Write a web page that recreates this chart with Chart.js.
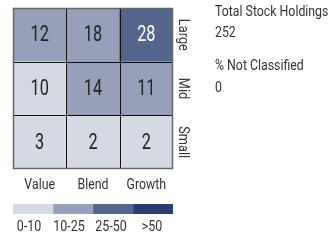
<!DOCTYPE html>
<html>
<head>
<meta charset="utf-8">
<script src="https://cdn.jsdelivr.net/npm/chart.js@4"></script>
<style>
    body { margin: 0; background: #fff; }
    #wrap { position: relative; width: 333px; height: 244px; font-family: Roboto, sans-serif; color: #333; }
    #box { position: absolute; left: 0; top: 0; width: 333px; height: 200px; }
    #legendBox { position: absolute; left: 0; top: 200px; width: 333px; height: 44px; }
    .info { position: absolute; left: 215px; font-size: 14px; line-height: 14px; white-space: nowrap; transform: scaleX(0.88); transform-origin: left top; }
</style>
</head>
<body>
<div id="wrap">
    <div id="box"><canvas id="styleBox"></canvas></div>
    <div id="legendBox"><canvas id="legendChart"></canvas></div>
    <div class="info" style="top:4px">Total Stock Holdings</div>
    <div class="info" style="top:25px">252</div>
    <div class="info" style="top:58px">% Not Classified</div>
    <div class="info" style="top:80px">0</div>
</div>
<script>
const styles = ["Value", "Blend", "Growth"];
const sizes = ["Small", "Mid", "Large"];   // bottom to top
const smallVals = [3, 2, 2];
const midVals = [10, 14, 11];
const largeVals = [12, 18, 28];
const binLabels = ["0-10", "10-25", "25-50", ">50"];
const binColors = ["#d5d9e3", "#97a0ba", "#55668c", "#2b3e72"];

const FONT = "Roboto, sans-serif";

function binFor(v) {
    if (v > 50) return 3;
    if (v > 25) return 2;
    if (v > 10) return 1;
    return 0;
}

// narrow text: the reference uses a condensed face
function narrowText(ctx, t, x, y, sx, rot) {
    ctx.save();
    ctx.translate(x, y);
    if (rot) ctx.rotate(rot);
    ctx.scale(sx, 1);
    ctx.fillText(t, 0, 0);
    ctx.restore();
}

const rows = [smallVals, midVals, largeVals];

const cellPlugin = {
    id: 'cells',
    afterDatasetsDraw(chart) {
        const ctx = chart.ctx;
        const xs = chart.scales.x, ys = chart.scales.y;
        const a = chart.chartArea;
        ctx.save();
        ctx.textAlign = 'center';
        ctx.textBaseline = 'middle';
        ctx.font = '22px ' + FONT;
        chart.data.datasets.forEach((ds, di) => {
            chart.getDatasetMeta(di).data.forEach((bar, i) => {
                const v = ds.cellValues[i];
                ctx.fillStyle = binFor(v) >= 2 ? '#ffffff' : '#222222';
                narrowText(ctx, String(v), bar.x, (bar.y + bar.base) / 2 + 1, 0.74);
            });
        });
        // inner lines
        ctx.strokeStyle = '#111';
        ctx.lineWidth = 1;
        ctx.beginPath();
        for (let i = 1; i < styles.length; i++) {
            const x = Math.round((xs.getPixelForValue(i - 1) + xs.getPixelForValue(i)) / 2) + 0.5;
            ctx.moveTo(x, a.top); ctx.lineTo(x, a.bottom);
        }
        for (let j = 1; j < sizes.length; j++) {
            const y = Math.round(ys.getPixelForValue(j)) + 0.5;
            ctx.moveTo(a.left, y); ctx.lineTo(a.right, y);
        }
        ctx.stroke();
        // outer frame
        ctx.strokeStyle = '#666';
        ctx.lineWidth = 1.5;
        ctx.strokeRect(a.left + 0.5, a.top + 0.5, a.right - a.left - 1, a.bottom - a.top - 1);
        // column labels
        ctx.fillStyle = '#333';
        ctx.font = '14.5px ' + FONT;
        styles.forEach((s, i) => narrowText(ctx, s, xs.getPixelForValue(i), a.bottom + 16, 0.85));
        // row labels, rotated
        sizes.forEach((s, j) => narrowText(ctx, s, a.right + 10, ys.getPixelForValue(j + 0.5), 0.88, Math.PI / 2));
        ctx.restore();
    }
};

new Chart(document.getElementById('styleBox'), {
    type: 'bar',
    data: {
        labels: styles,
        datasets: sizes.map((s, j) => ({
            label: s,
            data: styles.map(() => 1),
            cellValues: rows[j],
            backgroundColor: rows[j].map(v => binColors[binFor(v)]),
            borderWidth: 0,
            categoryPercentage: 1,
            barPercentage: 1
        }))
    },
    options: {
        responsive: true,
        maintainAspectRatio: false,
        animation: false,
        layout: { padding: { left: 13, top: 8, right: 160, bottom: 31 } },
        plugins: { legend: { display: false }, tooltip: { enabled: false } },
        scales: {
            x: { display: false, stacked: true },
            y: { display: false, stacked: true, min: 0, max: 3 }
        }
    },
    plugins: [cellPlugin]
});

// label centres sit a little left of the segment centres in the reference
const labelShift = [-4, -4, -2, -1];

const legendPlugin = {
    id: 'legendLabels',
    afterDatasetsDraw(chart) {
        const ctx = chart.ctx;
        const xs = chart.scales.x;
        ctx.save();
        ctx.fillStyle = '#333';
        ctx.font = '14.5px ' + FONT;
        ctx.textAlign = 'center';
        ctx.textBaseline = 'middle';
        binLabels.forEach((l, i) => narrowText(ctx, l, xs.getPixelForValue(i + 0.5) + labelShift[i], chart.chartArea.bottom + 13, 0.86));
        ctx.restore();
    }
};

new Chart(document.getElementById('legendChart'), {
    type: 'bar',
    data: {
        labels: ['scale'],
        datasets: binLabels.map((l, i) => ({
            label: l,
            data: [1],
            backgroundColor: binColors[i],
            borderWidth: 0,
            categoryPercentage: 1,
            barPercentage: 1
        }))
    },
    options: {
        indexAxis: 'y',
        responsive: true,
        maintainAspectRatio: false,
        animation: false,
        layout: { padding: { left: 13, top: 4, right: 160, bottom: 30 } },
        plugins: { legend: { display: false }, tooltip: { enabled: false } },
        scales: {
            x: { display: false, stacked: true, min: 0, max: binLabels.length },
            y: { display: false, stacked: true }
        }
    },
    plugins: [legendPlugin]
});
</script>
</body>
</html>
